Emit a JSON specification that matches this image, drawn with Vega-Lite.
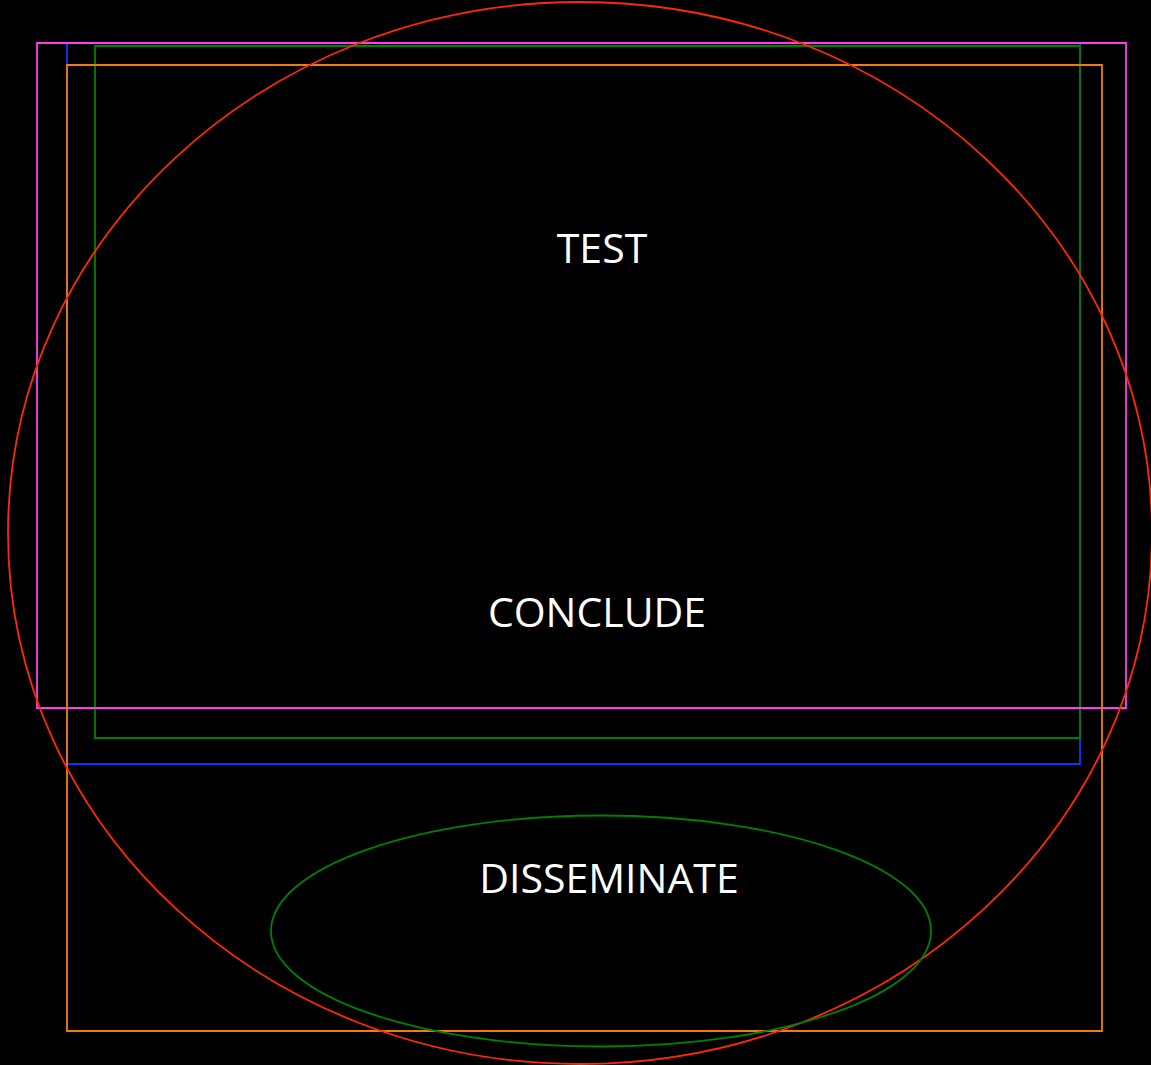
{
  "$schema": "https://vega.github.io/schema/vega-lite/v6.json",
  "width": 1151,
  "height": 1065,
  "autosize": {"type": "none"},
  "padding": 0,
  "background": "black",
  "config": {"view": {"stroke": null}},
  "datasets": {
    "boxes": [
      {"name": "blue", "x1": 67, "x2": 1080, "y1": 43, "y2": 764},
      {"name": "green", "x1": 95, "x2": 1080, "y1": 46, "y2": 738},
      {"name": "magenta", "x1": 37, "x2": 1126, "y1": 43, "y2": 708},
      {"name": "orange", "x1": 67, "x2": 1102, "y1": 65, "y2": 1031}
    ],
    "ovals": [
      {"name": "outer", "cx": 580, "cy": 533},
      {"name": "inner", "cx": 601, "cy": 931}
    ],
    "labels": [
      {"label": "TEST", "x": 602, "y": 251},
      {"label": "CONCLUDE", "x": 597, "y": 615},
      {"label": "DISSEMINATE", "x": 609, "y": 881}
    ]
  },
  "layer": [
    {
      "data": {"name": "boxes"},
      "mark": {"type": "rect", "fill": null, "fillOpacity": 0, "strokeWidth": 1.8},
      "encoding": {
        "x": {"field": "x1", "type": "quantitative", "scale": {"domain": [0, 1151], "nice": false, "zero": false}, "axis": null},
        "x2": {"field": "x2"},
        "y": {"field": "y1", "type": "quantitative", "scale": {"domain": [0, 1065], "nice": false, "zero": false, "reverse": true}, "axis": null},
        "y2": {"field": "y2"},
        "stroke": {"field": "name", "type": "nominal", "legend": null,
          "scale": {"domain": ["blue", "green", "magenta", "orange"], "range": ["#0838ff", "#008000", "#ff3cf0", "#f57a10"]}}
      }
    },
    {
      "data": {"name": "ovals"},
      "transform": [{"filter": "datum.name === 'outer'"}],
      "mark": {"type": "point", "filled": false, "opacity": 1, "stroke": "#ff2a00", "strokeWidth": 1.8,
        "size": 1308736, "shape": "M-1,0A1,0.9283,0,1,1,1,0A1,0.9283,0,1,1,-1,0Z"},
      "encoding": {
        "x": {"field": "cx", "type": "quantitative"},
        "y": {"field": "cy", "type": "quantitative"}
      }
    },
    {
      "data": {"name": "ovals"},
      "transform": [{"filter": "datum.name === 'inner'"}],
      "mark": {"type": "point", "filled": false, "opacity": 1, "stroke": "#008000", "strokeWidth": 1.8,
        "size": 435600, "shape": "M-1,0A1,0.35,0,1,1,1,0A1,0.35,0,1,1,-1,0Z"},
      "encoding": {
        "x": {"field": "cx", "type": "quantitative"},
        "y": {"field": "cy", "type": "quantitative"}
      }
    },
    {
      "data": {"name": "labels"},
      "mark": {"type": "text", "font": "Open Sans", "fontSize": 41, "fill": "white", "align": "center", "baseline": "middle"},
      "encoding": {
        "x": {"field": "x", "type": "quantitative"},
        "y": {"field": "y", "type": "quantitative"},
        "text": {"field": "label"}
      }
    }
  ]
}
